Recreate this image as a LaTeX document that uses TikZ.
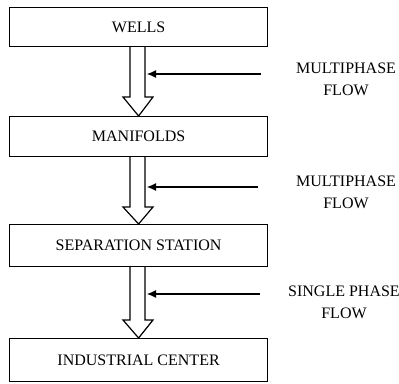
\documentclass[tikz,border=0pt]{standalone}
\usepackage{fontspec}
\setmainfont{Liberation Serif}
\usetikzlibrary{arrows.meta}
\begin{document}
\begin{tikzpicture}[x=1pt,y=-1pt,
  stagebox/.style={draw, line width=1.2pt, minimum width=258pt, anchor=north west, font=\fontsize{16}{18}\selectfont},
  flowlabel/.style={align=center, font=\fontsize{16}{22}\selectfont},
  hollow/.style={draw, line width=1.2pt, fill=white, line join=miter},
  feed/.style={draw, line width=1.1pt, -{Latex[length=9pt,width=8pt]}}]
\useasboundingbox (0,0) rectangle (399,383);
% process stages
\node[stagebox, minimum height=39pt] (wells) at (9,7) {WELLS};
\node[stagebox, minimum height=40pt] (mani) at (9,116) {MANIFOLDS};
\node[stagebox, minimum height=42pt] (sep) at (9,224) {SEPARATION STATION};
\node[stagebox, minimum height=43pt] (ind) at (9,338) {INDUSTRIAL CENTER};
% hollow block arrows between stages
\foreach \a/\b/\h in {wells/mani/97, mani/sep/207, sep/ind/320}{
  \draw[hollow] (\a.south -| 130,0) -- (130,\h) -- (123,\h) -- (\b.north)
     -- (153,\h) -- (145,\h) -- (\a.south -| 145,0);
}
% flow labels with their pointer arrows
\node[flowlabel] (l1) at (346,79) {MULTIPHASE\\FLOW};
\node[flowlabel] (l2) at (346,192) {MULTIPHASE\\FLOW};
\node[flowlabel] (l3) at (344,302) {SINGLE PHASE\\FLOW};
\coordinate (s1) at (261,74);
\coordinate (s2) at (258,187);
\coordinate (s3) at (260,294);
\coordinate (t1) at (147,74);
\coordinate (t2) at (147,187);
\coordinate (t3) at (147,294);
\draw[feed] (s1) -- (t1);
\draw[feed] (s2) -- (t2);
\draw[feed] (s3) -- (t3);
\end{tikzpicture}
\end{document}
